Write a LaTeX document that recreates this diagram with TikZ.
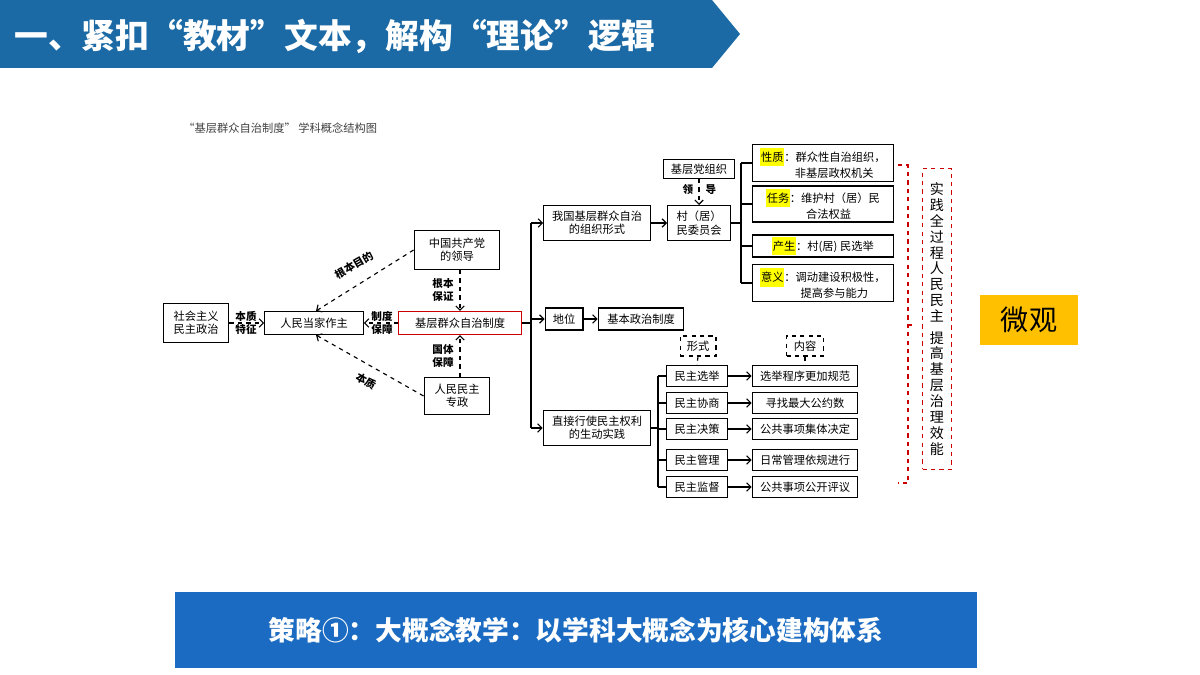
\documentclass[tikz,border=0pt]{standalone}
\usepackage{fontspec}
\setmainfont{Noto Sans CJK SC}
\usetikzlibrary{arrows.meta,calc}
\definecolor{bannerblue}{HTML}{1B6AA5}
\definecolor{stratblue}{HTML}{1A6BC1}
\definecolor{hlyellow}{HTML}{FFFF00}
\definecolor{microgold}{HTML}{FFC000}
\newcommand{\hl}[1]{\colorbox{hlyellow}{\hspace{-2.5pt}#1\hspace{-2.5pt}}}
\def\px{0.7087pt}
\begin{document}
\begin{tikzpicture}[x=0.025cm, y=-0.025cm,
    every node/.append style = {font=\fontsize{8}{9.5}\selectfont, inner sep=0pt},
    box/.style = {draw, thick, align=center},
    dbox/.style = {draw, thick, dashed, align=center},
    lbl/.style = {font=\fontsize{7.5}{9}\selectfont\bfseries, align=center},
    darr/.style = {dashed, thick, -{Straight Barb[length=3pt]}},
    sarr/.style = {thick, -{Straight Barb[length=3pt]}}
  ]
  \useasboundingbox (0,0) rectangle (1200,675);
  % title banner
  \fill[bannerblue] (0,0) -- (712,0) -- (740,34) -- (712,68) -- (0,68) -- cycle;
  \node[text=white, font=\fontsize{24}{28}\selectfont\bfseries, anchor=west]
    (title) at (14,36) {一、紧扣“教材”文本，解构“理论”逻辑};
  \node[anchor=west, text=black!75] (caption) at (183,128) {“基层群众自治制度” 学科概念结构图};
  % left part
  \node[box, minimum width=66*\px, minimum height=40*\px] (sz) at (196,323) {社会主义\\民主政治};
  \node[box, minimum width=99*\px, minimum height=23*\px] (rm) at (314,323) {人民当家作主};
  \node[box, minimum width=86*\px, minimum height=39*\px] (gcd) at (457,250) {中国共产党\\的领导};
  \node[box, draw=red!80!black, minimum width=123*\px, minimum height=23*\px] (jc) at (460,323) {基层群众自治制度};
  \node[box, minimum width=66*\px, minimum height=37*\px] (zz) at (457,396) {人民民主\\专政};
  \draw[darr] (sz) -- (rm);
  \node[lbl] (l1) at (246,323) {本质\\特征};
  \draw[darr] (gcd.west) -- ($(rm.north)+(2,0)$);
  \node[lbl, rotate=30] (l2) at (354,265) {根本目的};
  \draw[darr] (zz.west) -- ($(rm.south)+(2,0)$);
  \node[lbl, rotate=-30] (l3) at (366,381) {本质};
  \draw[darr] (jc) -- (rm);
  \node[lbl] (l4) at (382,323) {制度\\保障};
  \draw[darr] (gcd.south -| jc.north) -- (jc.north);
  \node[lbl] (l5) at (443,290) {根本\\保证};
  \draw[darr] (zz.north -| jc.south) -- (jc.south);
  \node[lbl] (l6) at (443,356) {国体\\保障};
  % trunk
  \node[box, minimum width=107*\px, minimum height=35*\px] (zzxs) at (597,223) {我国基层群众自治\\的组织形式};
  \node[box, minimum width=38*\px, minimum height=22*\px] (dw) at (564,319) {地位};
  \node[box, minimum width=86*\px, minimum height=22*\px] (jbz) at (641,319) {基本政治制度};
  \node[box, minimum width=108*\px, minimum height=35*\px] (zjxs) at (597,428) {直接行使民主权利\\的生动实践};
  \coordinate (t) at (531,323);
  \draw[thick] (jc.east) -- (t);
  \draw[sarr] (t |- zzxs.west) -- (zzxs.west);
  \draw[sarr] (t |- zjxs.west) -- (zjxs.west);
  \draw[thick] (t |- zzxs.west) -- (t |- zjxs.west);
  \draw[sarr] (t |- dw.west) -- (dw.west);
  \draw[sarr] (dw) -- (jbz);
  % village committee
  \node[box, minimum width=63*\px, minimum height=35*\px] (cw) at (699,223) {村（居）\\民委员会};
  \node[box, minimum width=72*\px, minimum height=19*\px] (dzz) at (699,169) {基层党组织};
  \draw[sarr] (zzxs) -- (cw);
  \draw[darr] (dzz) -- (cw);
  \node[lbl] (ld1) at (688,190) {领};
  \node[lbl] (ld2) at (711,190) {导};
  \node[box, minimum width=142*\px, minimum height=37*\px] (xz) at (823,163) {\hl{性质}：群众性自治组织，\\\hspace{2em}非基层政权机关};
  \node[box, minimum width=142*\px, minimum height=36*\px] (rw) at (823,204) {\hl{任务}：维护村（居）民\\\hspace{1em}合法权益};
  \node[box, minimum width=142*\px, minimum height=22*\px] (cs) at (823,246) {\hl{产生}：村(居) 民选举};
  \node[box, minimum width=142*\px, minimum height=38*\px] (yy) at (823,283) {\hl{意义}：调动建设积极性，\\\hspace{2em}提高参与能力};
  \coordinate (b1) at (741,223);
  \draw[thick] (cw.east) -- (b1);
  \foreach \n in {xz,rw,cs,yy} \draw[thick] (b1 |- \n.west) -- (\n.west);
  \draw[thick] (b1 |- xz.west) -- (b1 |- yy.west);
  % democratic practice
  \node[dbox, minimum width=36*\px, minimum height=20*\px] (xs) at (698,346) {形式};
  \node[dbox, minimum width=37*\px, minimum height=20*\px] (nr) at (805,346) {内容};
  \coordinate (b2) at (658,428);
  \draw[thick] (zjxs.east) -- (b2);
  \foreach \f/\c/\y/\ft/\ct in {xj/gf/376/民主选举/选举程序更加规范,
      xt/gy/403/民主协商/寻找最大公约数,
      jc2/jt/429/民主决策/公共事项集体决定,
      gl/yg/460/民主管理/日常管理依规进行,
      jd/gk/487/民主监督/公共事项公开评议} {
    \node[box, minimum width=61*\px, minimum height=21*\px] (\f) at (697,\y) {\ft};
    \node[box, minimum width=106*\px, minimum height=21*\px] (\c) at (805,\y) {\ct};
    \draw[thick] (b2 |- \f.west) -- (\f.west);
    \draw[sarr] (\f) -- (\c);
  }
  \draw[thick] (b2 |- xj.west) -- (b2 |- jd.west);
  \draw[thick, dashed] (xs.south) -- (xj.north);
  \draw[thick, dashed] (nr.south) -- (gf.north);
  % red bracket and summary
  \draw[red!80!black, thick, dashed] (898,165) -- (908,165) -- (908,483) -- (898,483);
  \draw[red!80!black, thick, dashed] (908,325) -- (915,325);
  \node[draw=red!80!black, thick, dashed, minimum width=29*\px, minimum height=302*\px,
    font=\fontsize{10}{11.3}\selectfont, align=center] (sj) at (937,319)
    {实\\践\\全\\过\\程\\人\\民\\民\\主\\[4pt]提\\高\\基\\层\\治\\理\\效\\能};
  \node[fill=microgold, minimum width=98*\px, minimum height=50*\px,
    font=\fontsize{20}{24}\selectfont] (wg) at (1029,320) {微观};
  % strategy banner
  \node[fill=stratblue, text=white, minimum width=805*\px, minimum height=76*\px,
    font=\fontsize{19}{23}\selectfont\bfseries] (cl) at (576,630)
    {策略①：大概念教学：以学科大概念为核心建构体系};
\end{tikzpicture}
\end{document}
